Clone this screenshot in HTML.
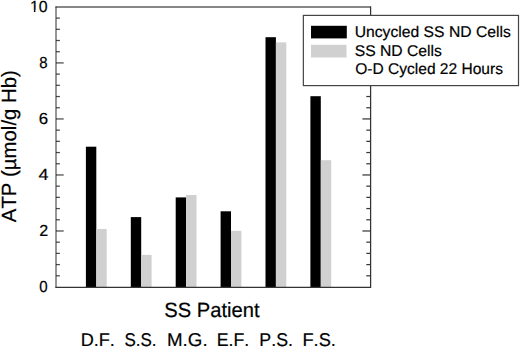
<!DOCTYPE html>
<html><head><meta charset="utf-8"><style>
html,body{margin:0;padding:0;background:#fff;}
body{width:520px;height:347px;overflow:hidden;}
svg{display:block;font-family:"Liberation Sans",sans-serif;}
text{fill:#000;text-rendering:geometricPrecision;font-kerning:none;stroke:#000;stroke-width:0.2px;}
</style></head><body>
<svg width="520" height="347" viewBox="0 0 520 347">
<rect x="85.90" y="146.70" width="10.4" height="140.70" fill="#000"/>
<rect x="96.30" y="229.00" width="10.4" height="58.40" fill="#d0d0d0"/>
<rect x="130.80" y="217.10" width="10.4" height="70.30" fill="#000"/>
<rect x="141.20" y="254.90" width="10.4" height="32.50" fill="#d0d0d0"/>
<rect x="175.70" y="197.40" width="10.4" height="90.00" fill="#000"/>
<rect x="186.10" y="195.00" width="10.4" height="92.40" fill="#d0d0d0"/>
<rect x="220.60" y="211.30" width="10.4" height="76.10" fill="#000"/>
<rect x="231.00" y="230.80" width="10.4" height="56.60" fill="#d0d0d0"/>
<rect x="265.50" y="37.20" width="10.4" height="250.20" fill="#000"/>
<rect x="275.90" y="42.40" width="10.4" height="245.00" fill="#d0d0d0"/>
<rect x="310.40" y="96.20" width="10.4" height="191.20" fill="#000"/>
<rect x="320.80" y="160.20" width="10.4" height="127.20" fill="#d0d0d0"/>
<line x1="56" y1="275.80" x2="59.90" y2="275.80" stroke="#4a4a4a" stroke-width="1.25"/>
<line x1="370.6" y1="275.80" x2="366.30" y2="275.80" stroke="#3a3a3a" stroke-width="1.25"/>
<line x1="56" y1="264.59" x2="59.90" y2="264.59" stroke="#4a4a4a" stroke-width="1.25"/>
<line x1="370.6" y1="264.59" x2="366.30" y2="264.59" stroke="#3a3a3a" stroke-width="1.25"/>
<line x1="56" y1="253.39" x2="59.90" y2="253.39" stroke="#4a4a4a" stroke-width="1.25"/>
<line x1="370.6" y1="253.39" x2="366.30" y2="253.39" stroke="#3a3a3a" stroke-width="1.25"/>
<line x1="56" y1="242.18" x2="59.90" y2="242.18" stroke="#4a4a4a" stroke-width="1.25"/>
<line x1="370.6" y1="242.18" x2="366.30" y2="242.18" stroke="#3a3a3a" stroke-width="1.25"/>
<line x1="56" y1="230.98" x2="63.70" y2="230.98" stroke="#4a4a4a" stroke-width="1.25"/>
<line x1="370.6" y1="230.98" x2="362.40" y2="230.98" stroke="#3a3a3a" stroke-width="1.25"/>
<line x1="56" y1="219.78" x2="59.90" y2="219.78" stroke="#4a4a4a" stroke-width="1.25"/>
<line x1="370.6" y1="219.78" x2="366.30" y2="219.78" stroke="#3a3a3a" stroke-width="1.25"/>
<line x1="56" y1="208.57" x2="59.90" y2="208.57" stroke="#4a4a4a" stroke-width="1.25"/>
<line x1="370.6" y1="208.57" x2="366.30" y2="208.57" stroke="#3a3a3a" stroke-width="1.25"/>
<line x1="56" y1="197.37" x2="59.90" y2="197.37" stroke="#4a4a4a" stroke-width="1.25"/>
<line x1="370.6" y1="197.37" x2="366.30" y2="197.37" stroke="#3a3a3a" stroke-width="1.25"/>
<line x1="56" y1="186.16" x2="59.90" y2="186.16" stroke="#4a4a4a" stroke-width="1.25"/>
<line x1="370.6" y1="186.16" x2="366.30" y2="186.16" stroke="#3a3a3a" stroke-width="1.25"/>
<line x1="56" y1="174.96" x2="63.70" y2="174.96" stroke="#4a4a4a" stroke-width="1.25"/>
<line x1="370.6" y1="174.96" x2="362.40" y2="174.96" stroke="#3a3a3a" stroke-width="1.25"/>
<line x1="56" y1="163.76" x2="59.90" y2="163.76" stroke="#4a4a4a" stroke-width="1.25"/>
<line x1="370.6" y1="163.76" x2="366.30" y2="163.76" stroke="#3a3a3a" stroke-width="1.25"/>
<line x1="56" y1="152.55" x2="59.90" y2="152.55" stroke="#4a4a4a" stroke-width="1.25"/>
<line x1="370.6" y1="152.55" x2="366.30" y2="152.55" stroke="#3a3a3a" stroke-width="1.25"/>
<line x1="56" y1="141.35" x2="59.90" y2="141.35" stroke="#4a4a4a" stroke-width="1.25"/>
<line x1="370.6" y1="141.35" x2="366.30" y2="141.35" stroke="#3a3a3a" stroke-width="1.25"/>
<line x1="56" y1="130.14" x2="59.90" y2="130.14" stroke="#4a4a4a" stroke-width="1.25"/>
<line x1="370.6" y1="130.14" x2="366.30" y2="130.14" stroke="#3a3a3a" stroke-width="1.25"/>
<line x1="56" y1="118.94" x2="63.70" y2="118.94" stroke="#4a4a4a" stroke-width="1.25"/>
<line x1="370.6" y1="118.94" x2="362.40" y2="118.94" stroke="#3a3a3a" stroke-width="1.25"/>
<line x1="56" y1="107.74" x2="59.90" y2="107.74" stroke="#4a4a4a" stroke-width="1.25"/>
<line x1="370.6" y1="107.74" x2="366.30" y2="107.74" stroke="#3a3a3a" stroke-width="1.25"/>
<line x1="56" y1="96.53" x2="59.90" y2="96.53" stroke="#4a4a4a" stroke-width="1.25"/>
<line x1="370.6" y1="96.53" x2="366.30" y2="96.53" stroke="#3a3a3a" stroke-width="1.25"/>
<line x1="56" y1="85.33" x2="59.90" y2="85.33" stroke="#4a4a4a" stroke-width="1.25"/>
<line x1="370.6" y1="85.33" x2="366.30" y2="85.33" stroke="#3a3a3a" stroke-width="1.25"/>
<line x1="56" y1="74.12" x2="59.90" y2="74.12" stroke="#4a4a4a" stroke-width="1.25"/>
<line x1="370.6" y1="74.12" x2="366.30" y2="74.12" stroke="#3a3a3a" stroke-width="1.25"/>
<line x1="56" y1="62.92" x2="63.70" y2="62.92" stroke="#4a4a4a" stroke-width="1.25"/>
<line x1="370.6" y1="62.92" x2="362.40" y2="62.92" stroke="#3a3a3a" stroke-width="1.25"/>
<line x1="56" y1="51.72" x2="59.90" y2="51.72" stroke="#4a4a4a" stroke-width="1.25"/>
<line x1="370.6" y1="51.72" x2="366.30" y2="51.72" stroke="#3a3a3a" stroke-width="1.25"/>
<line x1="56" y1="40.51" x2="59.90" y2="40.51" stroke="#4a4a4a" stroke-width="1.25"/>
<line x1="370.6" y1="40.51" x2="366.30" y2="40.51" stroke="#3a3a3a" stroke-width="1.25"/>
<line x1="56" y1="29.31" x2="59.90" y2="29.31" stroke="#4a4a4a" stroke-width="1.25"/>
<line x1="370.6" y1="29.31" x2="366.30" y2="29.31" stroke="#3a3a3a" stroke-width="1.25"/>
<line x1="56" y1="18.10" x2="59.90" y2="18.10" stroke="#4a4a4a" stroke-width="1.25"/>
<line x1="370.6" y1="18.10" x2="366.30" y2="18.10" stroke="#3a3a3a" stroke-width="1.25"/>
<line x1="56" y1="6.5" x2="56" y2="288" stroke="#222" stroke-width="0.95"/>
<line x1="55.5" y1="7" x2="371" y2="7" stroke="#111" stroke-width="1.1"/>
<line x1="370.6" y1="6.5" x2="370.6" y2="288" stroke="#333" stroke-width="1.25"/>
<line x1="55.5" y1="287.4" x2="371" y2="287.4" stroke="#333" stroke-width="1.3"/>
<rect x="303.35" y="15.4" width="215.15" height="70.2" fill="#fff" stroke="#444" stroke-width="1.2"/>
<rect x="311" y="25.8" width="35.8" height="12.6" fill="#000"/>
<rect x="311" y="44.8" width="35.5" height="12.7" fill="#d0d0d0"/>
<text transform="translate(39.192,292.490) scale(0.9356,1.0000)" font-size="16.1">0</text>
<text transform="translate(39.161,236.330) scale(0.9953,1.0000)" font-size="16.1">2</text>
<text transform="translate(38.514,180.170) scale(1.1134,1.0000)" font-size="16.1">4</text>
<text transform="translate(38.757,124.010) scale(1.0443,1.0000)" font-size="16.1">6</text>
<text transform="translate(39.347,67.850) scale(0.9287,1.0000)" font-size="16.1">8</text>
<text transform="translate(29.950,11.690) scale(0.9873,1.0000)" font-size="16.1">10</text>
<g transform="translate(29.950,11.690) scale(0.9873,1)" fill="#fff"><rect x="-0.47" y="-1.84" width="4.44" height="2.54"/><rect x="5.55" y="-1.84" width="3.49" height="2.54"/></g>
<text transform="translate(164.311,317.200) scale(0.9794,1.0000)" font-size="20.6">SS Patient</text>
<text transform="translate(80.647,345.700) scale(0.9807,1.0000)" font-size="18.5">D.F.</text>
<text transform="translate(124.424,345.700) scale(0.9176,1.0000)" font-size="18.5">S.S.</text>
<text transform="translate(167.016,345.700) scale(1.0124,1.0000)" font-size="18.5">M.G.</text>
<text transform="translate(216.729,345.700) scale(0.9577,1.0000)" font-size="18.5">E.F.</text>
<text transform="translate(259.368,345.700) scale(0.9610,1.0000)" font-size="18.5">P.S.</text>
<text transform="translate(302.437,345.700) scale(0.9874,1.0000)" font-size="18.5">F.S.</text>
<text transform="translate(354.726,36.750) scale(1.0120,1.0000)" font-size="15.5">Uncycled SS ND Cells</text>
<text transform="translate(354.715,56.150) scale(1.0119,1.0000)" font-size="15.5">SS ND Cells</text>
<text transform="translate(355.231,73.550) scale(1.0026,1.0000)" font-size="15.5">O-D Cycled 22 Hours</text>
<text transform="translate(16.000,222.164) rotate(-90) scale(0.9884,1.0000)" font-size="20.6">ATP (µmol/g Hb)</text>
</svg>
</body></html>
